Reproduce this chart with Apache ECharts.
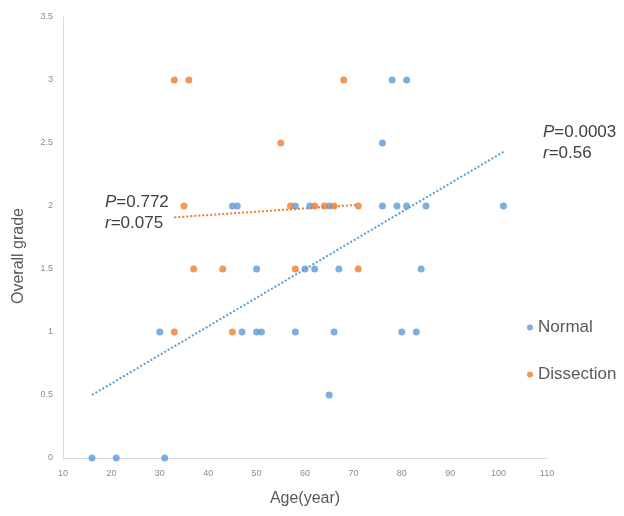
<!DOCTYPE html>
<html>
<head>
<meta charset="utf-8">
<script src="https://cdn.jsdelivr.net/npm/echarts@6/dist/echarts.min.js"></script>
<style>
  html, body { margin: 0; padding: 0; background: #fff; }
  #chart { width: 624px; height: 516px; }
</style>
</head>
<body>
<div id="chart"></div>
<script>
// Overall grade versus age, per group
const normalAge   = [16, 21, 31, 30, 47, 50, 51, 58, 66, 80, 83, 65, 50, 60, 62, 67, 84, 45, 46, 58, 61, 65, 76, 79, 81, 85, 101, 76, 78, 81];
const normalGrade = [0, 0, 0, 1, 1, 1, 1, 1, 1, 1, 1, 0.5, 1.5, 1.5, 1.5, 1.5, 1.5, 2, 2, 2, 2, 2, 2, 2, 2, 2, 2, 2.5, 3, 3];

const dissectionAge   = [33, 36, 68, 55, 35, 57, 62, 64, 66, 71, 37, 43, 58, 71, 33, 45];
const dissectionGrade = [3, 3, 3, 2.5, 2, 2, 2, 2, 2, 2, 1.5, 1.5, 1.5, 1.5, 1, 1];

// Linear trend lines (end points in data units)
const normalFitAge       = [16, 101];
const normalFitGrade     = [0.5, 2.43];
const dissectionFitAge   = [33, 71];
const dissectionFitGrade = [1.91, 2.01];

const xTicks = { min: 10, max: 110, interval: 10 };
const yTicks = { min: 0, max: 3.5, interval: 0.5 };

const BLUE = '#5B9BD5';
const ORANGE = '#ED7D31';
const FONT = 'Liberation Sans, Arial, sans-serif';

const zip = (xs, ys) => xs.map((x, i) => [x, ys[i]]);

const chart = echarts.init(document.getElementById('chart'), null, { renderer: 'canvas' });

const statStyle = (text) => ({
  text: text,
  fill: '#404040',
  font: '17px ' + FONT,
  lineHeight: 21,
  rich: { i: { fontStyle: 'italic', fontSize: 17, fontFamily: FONT, fill: '#404040', lineHeight: 21 } }
});

chart.setOption({
  animation: false,
  backgroundColor: '#ffffff',
  textStyle: { fontFamily: FONT },
  grid: { left: 63, right: 77, top: 17, bottom: 58 },
  xAxis: {
    type: 'value',
    min: xTicks.min, max: xTicks.max, interval: xTicks.interval,
    name: 'Age(year)',
    nameLocation: 'middle',
    nameGap: 33,
    nameTextStyle: { color: '#595959', fontSize: 16, fontFamily: FONT },
    axisLine: { show: true, lineStyle: { color: '#d9d9d9', width: 1 } },
    axisTick: { show: false },
    splitLine: { show: false },
    axisLabel: { color: '#8c8c8c', fontSize: 9, margin: 11, fontFamily: FONT }
  },
  yAxis: {
    type: 'value',
    min: yTicks.min, max: yTicks.max, interval: yTicks.interval,
    axisLine: { show: true, lineStyle: { color: '#d9d9d9', width: 1 } },
    axisTick: { show: false },
    splitLine: { show: false },
    axisLabel: { color: '#8c8c8c', fontSize: 9, margin: 10, fontFamily: FONT }
  },
  legend: {
    data: ['Normal', 'Dissection'],
    orient: 'vertical',
    left: 522,
    top: 314,
    itemWidth: 6,
    itemHeight: 6,
    itemGap: 30,
    icon: 'circle',
    textStyle: { color: '#595959', fontSize: 17, fontFamily: FONT }
  },
  graphic: [
    {
      // y-axis title
      type: 'text',
      x: 19, y: 256,
      rotation: Math.PI / 2,
      style: {
        text: 'Overall grade',
        fill: '#595959',
        font: '16px ' + FONT,
        align: 'center',
        verticalAlign: 'middle'
      }
    },
    { type: 'text', left: 105, top: 192, style: statStyle('{i|P}=0.772\n{i|r}=0.075') },
    { type: 'text', left: 543, top: 122, style: statStyle('{i|P}=0.0003\n{i|r}=0.56') }
  ],
  series: [
    {
      name: 'Normal trend',
      type: 'line',
      data: zip(normalFitAge, normalFitGrade),
      symbol: 'none',
      lineStyle: { color: BLUE, width: 2, type: [2, 2] },
      silent: true,
      z: 1
    },
    {
      name: 'Dissection trend',
      type: 'line',
      data: zip(dissectionFitAge, dissectionFitGrade),
      symbol: 'none',
      lineStyle: { color: ORANGE, width: 2, type: [2, 2] },
      silent: true,
      z: 1
    },
    {
      name: 'Normal',
      type: 'scatter',
      data: zip(normalAge, normalGrade),
      symbolSize: 7,
      itemStyle: { color: BLUE },
      z: 3
    },
    {
      name: 'Dissection',
      type: 'scatter',
      data: zip(dissectionAge, dissectionGrade),
      symbolSize: 7,
      itemStyle: { color: ORANGE },
      z: 4
    }
  ]
});
</script>
</body>
</html>
